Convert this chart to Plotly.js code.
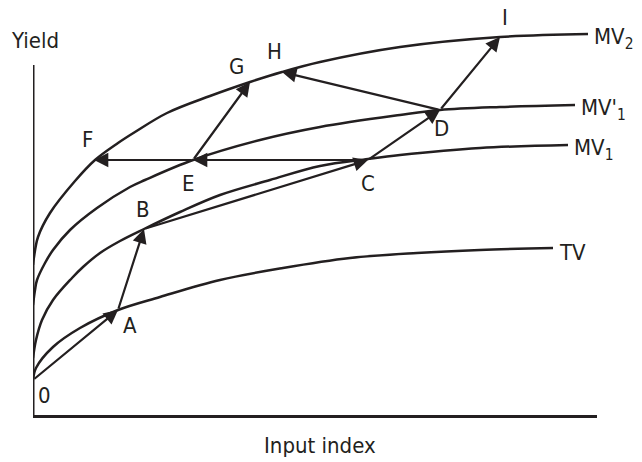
<!DOCTYPE html>
<html>
<head>
<meta charset="utf-8">
<script src="https://cdn.plot.ly/plotly-3.0.1.min.js"></script>
<style>html,body{margin:0;padding:0;background:#fff;}#chart{width:642px;height:462px;}
#chart svg text{font-stretch:condensed;}</style>
</head>
<body>
<div id="chart"></div>
<script>
// ---- data (input index vs yield, arbitrary units) ----
var curveNames = ["TV", "MV<sub>1</sub>", "MV'<sub>1</sub>", "MV<sub>2</sub>"];
var tvX  = [0, 3, 20, 47, 85, 127, 187, 250, 317, 384, 447, 520];
var tvY  = [35, 47, 68, 87, 105, 118, 135, 147, 157, 162, 165, 167];
var mv1X = [0, 3, 9, 20, 39, 50, 67, 87, 111, 147, 187, 237, 287, 335, 367, 447, 535];
var mv1Y = [57, 75, 95, 115, 137, 148, 162, 174, 186, 203, 220, 235, 249, 256, 260, 267, 270];
var mv1pX = [0, 2, 4, 12, 20, 37, 64, 97, 112, 160, 227, 287, 367, 407, 467, 542];
var mv1pY = [110, 125, 135, 152, 165, 185, 207, 228, 235, 255, 275, 288, 300, 305, 308, 310];
var mv2X = [0, 1, 5, 17, 42, 62, 85, 102, 134, 177, 217, 249, 287, 367, 467, 555];
var mv2Y = [150, 158, 178, 202, 234, 255, 272, 283, 302, 319, 333, 343, 353, 368, 378, 381];

var pointNames = ["0", "A", "B", "C", "D", "E", "F", "G", "H", "I"];
var pointX = [0, 85, 111, 335, 407, 160, 61, 217, 249, 467];
var pointY = [35, 105, 186, 255, 305, 255, 255, 333, 343, 378];

// arrows: from -> to
var arrowFrom = ["0", "A", "B", "C", "D", "D", "C", "E", "E"];
var arrowTo   = ["A", "B", "C", "D", "I", "H", "E", "F", "G"];

var xTitle = "Input index";
var yTitle = "Yield";

// ---- styles / layout ----
var ink = "#231f20";
var font = "'DejaVu Sans Condensed', 'DejaVu Sans', sans-serif";
var fs = 22;
var labelOffsets = {"0":[11,-15], "A":[12,-15], "B":[-1,20], "C":[0,-23], "D":[1,-18],
                    "E":[-5,-23], "F":[-7,21], "G":[-14,16], "H":[-8,21], "I":[5,20]};
var xRange = [0, 564], yRange = [0, 410], yAxisTop = 350;

var curvesX = [tvX, mv1X, mv1pX, mv2X];
var curvesY = [tvY, mv1Y, mv1pY, mv2Y];

var traces = curvesX.map(function (xs, i) {
  return {x: xs, y: curvesY[i], mode: "lines", type: "scatter",
          line: {color: ink, width: 2.5, shape: "spline", smoothing: 1},
          hoverinfo: "skip", showlegend: false};
});

function idx(n) { return pointNames.indexOf(n); }

var annotations = [];
// arrows
arrowFrom.forEach(function (f, k) {
  var a = idx(f), b = idx(arrowTo[k]);
  annotations.push({
    x: pointX[b], y: pointY[b], ax: pointX[a], ay: pointY[a],
    xref: "x", yref: "y", axref: "x", ayref: "y",
    text: "", showarrow: true, arrowhead: 2, arrowsize: 1.3, arrowwidth: 2.2,
    arrowcolor: ink, standoff: 0, startstandoff: 0
  });
});
// point labels
pointNames.forEach(function (n, i) {
  var o = labelOffsets[n];
  annotations.push({x: pointX[i] + o[0], y: pointY[i] + o[1], xref: "x", yref: "y",
    text: n, showarrow: false, xanchor: "center", yanchor: "middle",
    font: {family: font, size: fs, color: ink}});
});
// curve labels at the end of each curve
curvesX.forEach(function (xs, i) {
  var ys = curvesY[i];
  annotations.push({x: xs[xs.length - 1] + 4, y: ys[ys.length - 1] - 4, xref: "x", yref: "y",
    text: curveNames[i], showarrow: false, xanchor: "left", yanchor: "middle",
    font: {family: font, size: fs, color: ink}});
});
// axis titles
annotations.push({x: 2, y: 375, xref: "x", yref: "y", text: yTitle, showarrow: false,
  xanchor: "center", yanchor: "middle", font: {family: font, size: fs, color: ink}});
annotations.push({x: 287, y: -30 / 410, xref: "x", yref: "paper", text: xTitle, showarrow: false,
  xanchor: "center", yanchor: "middle", font: {family: font, size: fs, color: ink}});

var layout = {
  width: 642, height: 462,
  margin: {l: 33, r: 45, t: 5, b: 47},
  paper_bgcolor: "#fff", plot_bgcolor: "#fff",
  xaxis: {range: xRange, showgrid: false, zeroline: false, showticklabels: false, ticks: "",
          showline: true, linecolor: ink, linewidth: 3, fixedrange: true},
  yaxis: {range: yRange, showgrid: false, zeroline: false, showticklabels: false, ticks: "",
          showline: false, fixedrange: true},
  shapes: [{type: "line", xref: "x", yref: "y", x0: 0, x1: 0, y0: yRange[0] - 2, y1: yAxisTop,
            line: {color: ink, width: 3}}],
  annotations: annotations,
  showlegend: false
};

Plotly.newPlot("chart", traces, layout, {displayModeBar: false, staticPlot: true});
</script>
</body>
</html>
